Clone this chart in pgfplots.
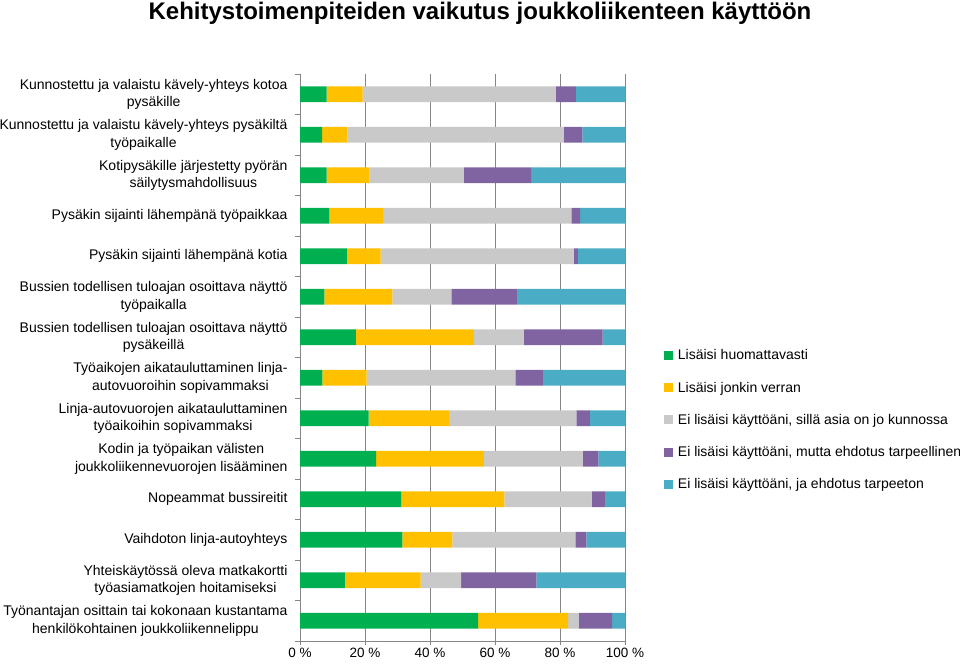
\documentclass[border=0pt]{standalone}
\usepackage{pgfplots}
\usepackage{pgfplotstable}
\pgfplotsset{compat=1.18}
\usepackage{fontspec}
\setmainfont{Liberation Sans}
\definecolor{cA}{HTML}{00B050}
\definecolor{cB}{HTML}{FFC000}
\definecolor{cC}{HTML}{C9C9C9}
\definecolor{cD}{HTML}{8064A2}
\definecolor{cE}{HTML}{4BACC6}
\definecolor{gridc}{HTML}{868686}
\pgfplotstableread{
y a b c d e
0 8.2 11.1 59.4 6.2 15.1
1 6.8 7.8 66.6 5.7 13.1
2 8.2 13.2 29.0 20.7 28.9
3 9.0 16.6 57.9 2.7 13.8
4 14.4 10.4 59.4 1.3 14.5
5 7.5 20.9 18.2 20.1 33.3
6 17.2 36.3 15.3 24.3 6.9
7 6.9 13.6 45.8 8.4 25.3
8 21.1 24.8 39.1 4.2 10.8
9 23.4 33.2 30.4 4.8 8.2
10 31.1 31.8 26.8 4.1 6.2
11 31.5 15.4 37.8 3.4 11.9
12 13.8 23.3 12.5 23.1 27.3
13 54.8 27.7 3.3 10.2 4.0
}\datatable
\begin{document}
\begin{tikzpicture}[x=1pt,y=1pt]
\useasboundingbox (0,0) rectangle (960,666);
\node[font=\bfseries\fontsize{24}{28}\selectfont] at (480,653) {Kehitystoimenpiteiden vaikutus joukkoliikenteen käyttöön};
\begin{axis}[
  at={(300pt,25pt)}, anchor=south west,
  width=325pt, height=567pt, scale only axis,
  xbar stacked, bar width=15.7pt,
  y dir=reverse,
  xmin=0, xmax=100, ymin=-0.5, ymax=13.5,
  xtick={0,20,40,60,80,100},
  xticklabels={0 \%,20 \%,40 \%,60 \%,80 \%,100 \%},
  ytick={0,...,13},
  minor ytick={-0.5,0.5,...,13.5},
  yticklabels={
    {Kunnostettu ja valaistu kävely-yhteys kotoa\\pysäkille},
    {Kunnostettu ja valaistu kävely-yhteys pysäkiltä\\työpaikalle},
    {Kotipysäkille järjestetty pyörän\\säilytysmahdollisuus},
    {Pysäkin sijainti lähempänä työpaikkaa},
    {Pysäkin sijainti lähempänä kotia},
    {Bussien todellisen tuloajan osoittava näyttö\\työpaikalla},
    {Bussien todellisen tuloajan osoittava näyttö\\pysäkeillä},
    {Työaikojen aikatauluttaminen linja-\\autovuoroihin sopivammaksi},
    {Linja-autovuorojen aikatauluttaminen\\työaikoihin sopivammaksi},
    {Kodin ja työpaikan välisten\\joukkoliikennevuorojen lisääminen},
    {Nopeammat bussireitit},
    {Vaihdoton linja-autoyhteys},
    {Yhteiskäytössä oleva matkakortti\\työasiamatkojen hoitamiseksi},
    {Työnantajan osittain tai kokonaan kustantama\\henkilökohtainen joukkoliikennelippu}},
  yticklabel style={align=center, font=\fontsize{14}{17.5}\selectfont, xshift=-5pt},
  xticklabel style={font=\fontsize{13.5}{16}\selectfont},
  tick align=outside,
  major tick length=4pt, minor tick length=5pt,
  y tick style={draw=none}, minor y tick style={draw=gridc},
  x tick style={draw=gridc},
  axis x line*=bottom, axis y line*=left,
  axis line style={draw=gridc, -},
  xmajorgrids, grid style={draw=gridc, line width=0.6pt},
  legend style={draw=none, at={(1.11,0.39)}, anchor=west,
    font=\fontsize{14}{16}\selectfont, row sep=18.5pt,
    nodes={inner ysep=1pt, inner xsep=5pt}},
  legend cell align=left,
  legend image code/.code={\fill[#1] (0pt,-4.5pt) rectangle (9pt,4.5pt);},
]
\addplot[fill=cA, draw=none] table[x=a, y=y] {\datatable};
\addplot[fill=cB, draw=none] table[x=b, y=y] {\datatable};
\addplot[fill=cC, draw=none] table[x=c, y=y] {\datatable};
\addplot[fill=cD, draw=none] table[x=d, y=y] {\datatable};
\addplot[fill=cE, draw=none] table[x=e, y=y] {\datatable};
\legend{Lisäisi huomattavasti, Lisäisi jonkin verran, {Ei lisäisi käyttöäni, sillä asia on jo kunnossa}, {Ei lisäisi käyttöäni, mutta ehdotus tarpeellinen}, {Ei lisäisi käyttöäni, ja ehdotus tarpeeton}}
\end{axis}
\end{tikzpicture}
\end{document}
